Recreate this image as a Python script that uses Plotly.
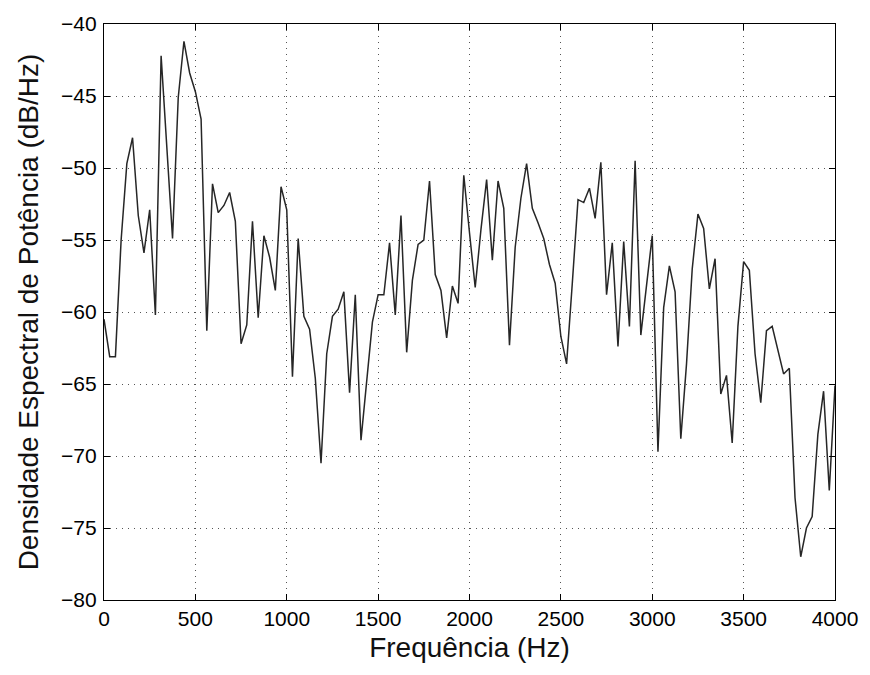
import numpy as np
import plotly.graph_objects as go

step_hz = 31.25
psd_db = [
    -60.5, -63.1, -63.1, -55.0, -49.7, -47.9, -53.3, -55.9, -52.9, -60.2,
    -42.2, -48.6, -54.9, -45.1, -41.2, -43.4, -44.7, -46.6, -61.3, -51.1,
    -53.1, -52.6, -51.7, -53.7, -62.2, -60.9, -53.7, -60.4, -54.7, -56.2,
    -58.5, -51.3, -52.9, -64.5, -54.9, -60.3, -61.2, -64.6, -70.5, -62.9,
    -60.3, -59.8, -58.6, -65.6, -58.8, -68.9, -64.7, -60.7, -58.8, -58.8,
    -55.2, -60.2, -53.3, -62.8, -57.8, -55.3, -55.0, -50.9, -57.4, -58.5,
    -61.8, -58.2, -59.4, -50.5, -54.5, -58.3, -54.3, -50.8, -56.4, -50.9,
    -52.8, -62.3, -55.5, -52.1, -49.7, -52.8, -53.8, -54.9, -56.7, -58.0,
    -61.7, -63.6, -58.0, -52.2, -52.4, -51.4, -53.5, -49.6, -58.8, -55.2,
    -62.4, -55.1, -61.0, -49.5, -61.6, -58.2, -54.7, -69.7, -59.7, -56.8,
    -58.6, -68.8, -63.6, -57.0, -53.2, -54.2, -58.4, -56.3, -65.7, -64.4,
    -69.1, -61.0, -56.5, -57.1, -62.9, -66.3, -61.3, -61.0, -62.6, -64.3,
    -63.9, -72.9, -77.0, -75.0, -74.2, -68.5, -65.5, -72.4, -65.1,
]
freq_hz = [i * step_hz for i in range(len(psd_db))]

x_ticks = [0, 500, 1000, 1500, 2000, 2500, 3000, 3500, 4000]
y_ticks = [-80, -75, -70, -65, -60, -55, -50, -45, -40]

FONT = "Liberation Sans, Arial, sans-serif"

fig = go.Figure()
fig.add_trace(go.Scatter(
    x=freq_hz, y=psd_db, mode="lines",
    line=dict(color="#262626", width=1.5),
    showlegend=False,
))

axis_common = dict(
    showline=True, linecolor="black", linewidth=1.2, mirror="ticks",
    ticks="inside", ticklen=6, tickcolor="black", tickwidth=1,
    showgrid=True, gridcolor="#555555", gridwidth=1, griddash="1px,5px",
    zeroline=False,
    tickfont=dict(family=FONT, size=21, color="black"),
)

fig.update_xaxes(
    range=[0, 4000], tickvals=x_ticks, ticktext=[str(v) for v in x_ticks],
    title=dict(text="Frequência (Hz)", font=dict(family=FONT, size=28, color="#111111"), standoff=8),
    ticklabelstandoff=0,
    **axis_common,
)
fig.update_yaxes(
    range=[-80, -40], tickvals=y_ticks, ticktext=["\u2212" + str(abs(v)) for v in y_ticks],
    title=dict(text="Densidade Espectral de Potência (dB/Hz)", font=dict(family=FONT, size=28, color="#111111"), standoff=14),
    ticklabelstandoff=2,
    **axis_common,
)

fig.update_layout(
    width=870, height=675,
    margin=dict(l=104, r=28, t=17, b=75),
    paper_bgcolor="white", plot_bgcolor="white",
)

fig.write_html("out.html")
